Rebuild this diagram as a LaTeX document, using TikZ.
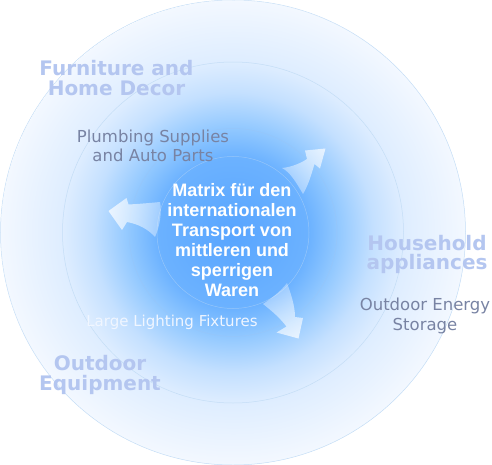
\documentclass[tikz,border=0pt]{standalone}
\usepackage{fontspec}
\usepackage{xcolor}
\usetikzlibrary{fadings}
\setmainfont{Liberation Sans}
\newfontfamily\dejavu{DejaVu Sans}

\definecolor{glowA}{RGB}{88,165,255}
\definecolor{glowB}{RGB}{108,178,255}
\definecolor{glowC}{RGB}{145,200,255}
\definecolor{glowD}{RGB}{196,224,255}
\definecolor{glowE}{RGB}{222,237,255}
\definecolor{glowF}{RGB}{243,248,255}
\definecolor{ringline}{RGB}{196,221,246}
\definecolor{innerline}{RGB}{150,198,250}
\definecolor{titleblue}{RGB}{180,198,240}
\definecolor{slategray}{RGB}{120,131,163}
\definecolor{palewhite}{RGB}{240,246,255}

% glow of the disc, radii at their true size
\pgfdeclareradialshading{discglow}{\pgfpoint{0pt}{0pt}}{%
  color(0pt)=(glowA); color(76pt)=(glowB); color(104pt)=(glowC);
  color(140pt)=(glowD); color(170.5pt)=(glowE); color(232.5pt)=(glowF)}

% arrows fade in from the tail
\begin{tikzfadingfrompicture}[name=arrowglow]
  \shade[left color=transparent!90, right color=transparent!0] (-60bp,-120bp) rectangle (60bp,120bp);
  \fill[transparent!0] (60bp,-120bp) rectangle (120bp,120bp);
  \fill[transparent!90] (-120bp,-120bp) rectangle (-60bp,120bp);
\end{tikzfadingfrompicture}

\begin{document}
\begin{tikzpicture}[x=1pt, y=1pt,
    ring/.style={line width=0.5pt},
    arrowfill/.style={fill=white, path fading=arrowglow, fit fading=false},
    title/.style={align=center, inner sep=0pt, text=titleblue,
        font=\dejavu\bfseries\fontsize{20}{19.5}\selectfont},
    sublabel/.style={align=center, inner sep=0pt, text=slategray,
        font=\dejavu\fontsize{16.5}{19.5}\selectfont},
    hub/.style={align=center, inner sep=0pt, text=white,
        font=\bfseries\fontsize{18}{20}\selectfont}]
                \useasboundingbox (0,0) rectangle (492,-465);

                % Disc with radial glow
                \begin{scope}
                    \clip (233,-232.5) circle (232.5pt);
                    \node[inner sep=0pt] (glow) at (233,-232.5) {\pgfuseshading{discglow}};
                \end{scope}

                % Concentric rings
                \foreach \r/\c in {232.5/ringline, 170.5/ringline, 104/innerline, 76/innerline}
                    \draw[ring, \c] (233,-232.5) circle (\r pt);

                % Sweeping arrows round the centre
                \fill[arrowfill, fading transform={shift={(309.5,-164)}, rotate=40.6}]
                    (282,-168) .. controls (292,-167) and (301,-163) .. (307,-159)
                    -- (305,-150.5) -- (325.5,-148.5) -- (320,-168.5) -- (314.5,-164)
                    .. controls (312,-172) and (309,-184) .. (303,-194)
                    .. controls (296,-182) and (290,-172) .. (282,-168) -- cycle;
                \fill[arrowfill, fading transform={shift={(134.5,-216.5)}, rotate=174.4}]
                    (160,-202) .. controls (150,-203) and (138,-204) .. (128.5,-204.5)
                    -- (126.5,-198) -- (108.5,-211) -- (122,-230) -- (127,-222)
                    .. controls (138,-224) and (148,-229) .. (155,-237)
                    .. controls (160,-226) and (162,-212) .. (160,-202) -- cycle;
                \fill[arrowfill, fading transform={shift={(286.5,-316.5)}, rotate=-60.7}]
                    (287,-283) .. controls (291,-294) and (295,-306) .. (295,-317)
                    -- (303,-318) -- (298.5,-338.5) -- (276.5,-332.5) -- (286.5,-326.5)
                    .. controls (280,-318) and (272,-311) .. (263,-304)
                    .. controls (272,-298) and (281,-291) .. (287,-283) -- cycle;

                % Labels
                \node[hub] (hub) at (232,-240.5)
                    {Matrix für den\\internationalen\\Transport von\\mittleren und\\sperrigen\\Waren};
                \node[title] (furniture) at (116.5,-78.2) {Furniture and\\Home Decor};
                \node[title] (household) at (427,-254.5) {Household\\appliances};
                \node[title] (outdoor) at (100,-375) {Outdoor\\Equipment};
                \node[sublabel] (plumbing) at (153,-146) {Plumbing Supplies\\and Auto Parts};
                \node[sublabel] (energy) at (425,-315.7) {Outdoor Energy\\Storage};
                \node[sublabel, text=palewhite, font=\dejavu\fontsize{15}{18}\selectfont, anchor=base]
                    (lighting) at (172,-326.5) {Large Lighting Fixtures};
            \end{tikzpicture}
\end{document}
